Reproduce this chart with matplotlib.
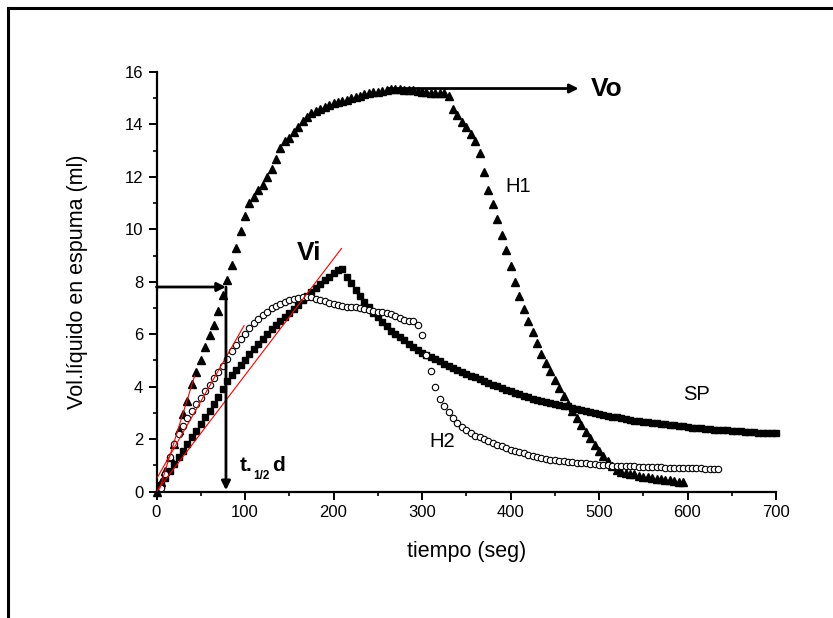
import numpy as np
import matplotlib
matplotlib.use("Agg")
import matplotlib.pyplot as plt
from matplotlib.lines import Line2D
from matplotlib.ticker import MultipleLocator

plt.rcParams['font.family'] = ['Liberation Sans', 'DejaVu Sans']

# ---------------- data ----------------
t_h1 = np.arange(0, 600, 5)
h1 = [0.0, 0.35, 0.8, 1.3, 1.8, 2.35, 2.95, 3.45, 4.1, 4.55,
      5.0, 5.5, 5.95, 6.35, 6.9, 7.5, 8.05, 8.65, 9.3, 9.95,
      10.5, 11.0, 11.25, 11.5, 11.7, 12.0, 12.3, 12.7, 13.1, 13.35,
      13.5, 13.7, 13.9, 14.15, 14.3, 14.45, 14.5, 14.6, 14.67, 14.73,
      14.8, 14.85, 14.9, 14.95, 15.0, 15.03, 15.08, 15.15, 15.2, 15.25,
      15.25, 15.27, 15.3, 15.34, 15.35, 15.35, 15.33, 15.33, 15.3, 15.28,
      15.25, 15.22, 15.2, 15.2, 15.18, 15.18, 15.1, 14.6, 14.35, 14.1,
      13.9, 13.65, 13.35, 12.9, 12.2, 11.5, 10.95, 10.4, 9.8, 9.2,
      8.6, 8.0, 7.45, 6.95, 6.5, 6.1, 5.65, 5.25, 4.9, 4.58,
      4.25, 3.95, 3.63, 3.35, 3.08, 2.82, 2.55, 2.28, 2.03, 1.77,
      1.55, 1.34, 1.15, 0.98, 0.83, 0.76, 0.72, 0.68, 0.65, 0.6,
      0.57, 0.54, 0.51, 0.48, 0.46, 0.44, 0.42, 0.4, 0.38, 0.36]

t_sp = np.arange(5, 705, 5)
sp = [0.25, 0.5, 0.78, 1.05, 1.3, 1.56, 1.82, 2.07, 2.32, 2.57,
      2.83, 3.08, 3.35, 3.62, 3.9, 4.22, 4.45, 4.64, 4.83, 5.03,
      5.23, 5.44, 5.62, 5.82, 6.0, 6.19, 6.35, 6.5, 6.66, 6.8,
      6.97, 7.13, 7.3, 7.46, 7.62, 7.78, 7.93, 8.06, 8.2, 8.33,
      8.43, 8.47, 8.2, 7.95, 7.7, 7.47, 7.24, 7.02, 6.82, 6.64,
      6.46, 6.3, 6.14, 6.0, 5.88, 5.76, 5.64, 5.52, 5.41, 5.3,
      5.2, 5.12, 5.04, 4.96, 4.87, 4.8, 4.72, 4.64, 4.56, 4.49,
      4.42, 4.35, 4.28, 4.2, 4.14, 4.07, 4.01, 3.95, 3.89, 3.83,
      3.77, 3.71, 3.65, 3.6, 3.54, 3.5, 3.46, 3.42, 3.38, 3.34,
      3.31, 3.28, 3.25, 3.2, 3.16, 3.1, 3.06, 3.02, 2.98, 2.95,
      2.92, 2.89, 2.86, 2.83, 2.8, 2.76, 2.72, 2.7, 2.68, 2.66,
      2.64, 2.62, 2.6, 2.58, 2.57, 2.55, 2.53, 2.5, 2.48, 2.45,
      2.43, 2.42, 2.41, 2.4, 2.38, 2.36, 2.35, 2.34, 2.33, 2.32,
      2.3, 2.29, 2.28, 2.27, 2.26, 2.25, 2.24, 2.23, 2.22, 2.22]

t_h2 = np.arange(5, 640, 5)
h2 = [0.13, 0.65, 1.3, 1.82, 2.18, 2.5, 2.82, 3.08, 3.35, 3.58,
      3.83, 4.08, 4.33, 4.57, 4.8, 5.07, 5.35, 5.58, 5.82, 6.02,
      6.22, 6.42, 6.58, 6.73, 6.86, 6.98, 7.08, 7.17, 7.24, 7.3,
      7.35, 7.38, 7.41, 7.42, 7.4, 7.35, 7.3, 7.26, 7.2, 7.14,
      7.1, 7.06, 7.04, 7.03, 7.02, 7.0, 6.96, 6.92, 6.9, 6.86,
      6.83, 6.8, 6.76, 6.7, 6.62, 6.56, 6.52, 6.49, 6.34, 5.95,
      5.2, 4.6, 4.0, 3.52, 3.28, 3.03, 2.8, 2.6, 2.45, 2.33,
      2.22, 2.13, 2.06, 2.0, 1.93, 1.86, 1.79, 1.72, 1.65, 1.6,
      1.54, 1.5, 1.46, 1.41, 1.37, 1.33, 1.29, 1.25, 1.22, 1.2,
      1.17, 1.15, 1.13, 1.12, 1.1, 1.09, 1.07, 1.05, 1.04, 1.02,
      1.01, 1.0, 0.98, 0.97, 0.97, 0.97, 0.97, 0.96, 0.95, 0.95,
      0.94, 0.93, 0.93, 0.92, 0.91, 0.91, 0.9, 0.9, 0.89, 0.89,
      0.89, 0.89, 0.88, 0.87, 0.86, 0.85, 0.84]

# tangent lines (start, end)
tan_sp = ([0, 209], [0.0, 9.27])
tan_h2 = ([0, 99], [0.48, 6.33])
tan_h1 = ([3.5, 43], [0.1, 4.4])

t_half = 78.5
v_half = 7.8
vo_level = 15.37

# ---------------- figure ----------------
fig = plt.figure(figsize=(8.33, 6.18), dpi=100)
ax = fig.add_axes([156.5 / 833, 1 - 491.5 / 618, 619.5 / 833, 419.5 / 618])

ax.plot(t_h1, h1, linestyle='none', marker='^', ms=5.2, color='black',
        mec='black', clip_on=False, zorder=3)
ax.plot(t_sp, sp, linestyle='none', marker='s', ms=4.3, color='black',
        mec='black', clip_on=False, zorder=3)
ax.plot(t_h2, h2, linestyle='none', marker='o', ms=4.6, mfc='white',
        mec='black', mew=0.8, clip_on=False, zorder=4)

for xs, ys in (tan_sp, tan_h2, tan_h1):
    ax.plot(xs, ys, color='red', lw=0.8, zorder=5)

arrow_kw = dict(arrowstyle='-|>', lw=2.0, color='black', mutation_scale=13,
                shrinkA=0, shrinkB=0)
ax.annotate('', xy=(t_half, v_half), xytext=(0, v_half),
            arrowprops=arrow_kw, annotation_clip=False, zorder=6)
ax.annotate('', xy=(t_half, 0.05), xytext=(t_half, v_half),
            arrowprops=arrow_kw, annotation_clip=False, zorder=6)
ax.annotate('', xy=(477, vo_level), xytext=(262, vo_level),
            arrowprops=arrow_kw, annotation_clip=False, zorder=6)

ax.text(491, vo_level, 'Vo', fontsize=19, fontweight='bold', ha='left', va='center')
ax.text(172.5, 9.08, 'Vi', fontsize=19, fontweight='bold', ha='center', va='center')
ax.text(394, 11.62, 'H1', fontsize=14.5, ha='left', va='center')
ax.text(595.5, 3.71, 'SP', fontsize=14.5, ha='left', va='center')
ax.text(308.5, 1.91, 'H2', fontsize=14.5, ha='left', va='center')
ax.text(94.2, 1.0, 't.', fontsize=15, fontweight='bold', ha='left', va='center')
ax.text(109.0, 0.6, '1/2', fontsize=8.5, fontweight='bold', ha='left', va='center')
ax.text(130.3, 1.0, 'd', fontsize=15, fontweight='bold', ha='left', va='center')

ax.set_xlim(0, 700)
ax.set_ylim(0, 16)
ax.xaxis.set_major_locator(MultipleLocator(100))
ax.xaxis.set_minor_locator(MultipleLocator(50))
ax.yaxis.set_major_locator(MultipleLocator(2))
ax.yaxis.set_minor_locator(MultipleLocator(1))

for s in ('top', 'right'):
    ax.spines[s].set_visible(False)
for s in ('left', 'bottom'):
    ax.spines[s].set_linewidth(1.6)

ax.tick_params(which='major', direction='out', length=6, width=1.4,
               labelsize=12, pad=3.5)
ax.tick_params(which='minor', direction='out', length=3, width=1.2)

ax.set_xlabel('tiempo (seg)', fontsize=15.5)
ax.set_ylabel('Vol.líquido en espuma (ml)', fontsize=15.5)
ax.xaxis.set_label_coords(0.5, -(541 - 491.5) / 419.5)
ax.yaxis.set_label_coords(-(156.5 - 88) / 619.5, 0.5)

# outer frame (top and left edges)
fig.add_artist(Line2D([7.5 / 833, 1.0], [1 - 7.5 / 618, 1 - 7.5 / 618],
                      transform=fig.transFigure, color='black', lw=2.2))
fig.add_artist(Line2D([7.5 / 833, 7.5 / 833], [0.0, 1 - 7.5 / 618],
                      transform=fig.transFigure, color='black', lw=2.2))

fig.savefig('out.png', dpi=100)
